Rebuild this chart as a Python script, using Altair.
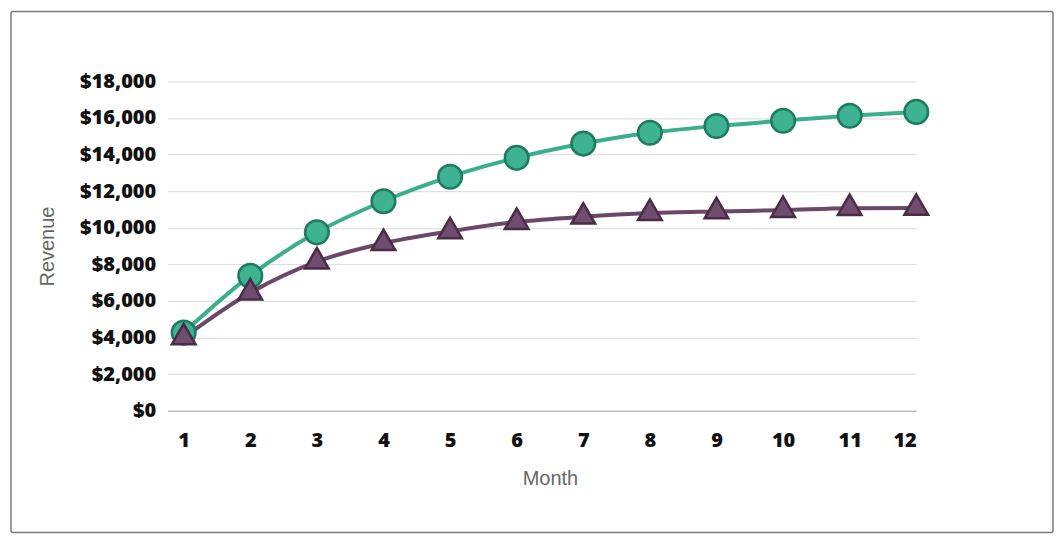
import altair as alt
import pandas as pd

months = list(range(1, 13))
series_names = ["Series A", "Series B"]
series_a = [4270, 7380, 9750, 11450, 12790, 13820, 14600, 15190, 15560, 15850, 16120, 16330]
series_b = [4000, 6450, 8150, 9150, 9800, 10310, 10600, 10800, 10890, 10960, 11070, 11080]

rows = []
for m, v in zip(months, series_a):
    rows.append({"Month": m, "Revenue": v, "Series": series_names[0]})
for m, v in zip(months, series_b):
    rows.append({"Month": m, "Revenue": v, "Series": series_names[1]})
df = pd.DataFrame(rows)

line_colors = ["#3aae8d", "#6b4869"]
fill_colors = ["#3db391", "#704c6f"]
stroke_colors = ["#1f7a5f", "#4a2c47"]
shapes = ["circle", "M0,-1.155L1,0.577L-1,0.577Z"]

x = alt.X(
    "Month:Q",
    scale=alt.Scale(domain=[0.76, 12], nice=False, zero=False),
    axis=alt.Axis(
        values=months,
        format="d",
        grid=False,
        ticks=False,
        domain=True,
        domainColor="#aaaaaa",
        domainWidth=1.2,
        labelFont="Open Sans",
        labelFontWeight=800,
        labelFontSize=20,
        labelColor="#111111",
        labelPadding=20,
        title="Month",
        titleFont="Liberation Sans",
        titleFontWeight="normal",
        titleFontSize=20,
        titleColor="#666666",
        titleX=383,
        titleY=68,
        titleAlign="center",
        titleBaseline="middle",
    ),
)
y = alt.Y(
    "Revenue:Q",
    scale=alt.Scale(domain=[0, 18000], nice=False),
    axis=alt.Axis(
        values=list(range(0, 18001, 2000)),
        format="$,.0f",
        grid=True,
        gridColor="#e0e0e0",
        gridWidth=1.2,
        ticks=False,
        domain=False,
        labelFont="Open Sans",
        labelFontWeight=800,
        labelFontSize=20,
        labelColor="#111111",
        labelPadding=12,
        title="Revenue",
        titleFont="Liberation Sans",
        titleFontWeight="normal",
        titleFontSize=20,
        titleColor="#666666",
        titleX=-120,
        titleY=165,
        titleAngle=-90,
        titleAlign="center",
        titleBaseline="middle",
    ),
)

lines = alt.Chart(df).mark_line(interpolate="monotone", strokeWidth=4).encode(
    x=x,
    y=y,
    color=alt.Color("Series:N", scale=alt.Scale(domain=series_names, range=line_colors), legend=None),
    detail="Series:N",
)

points = alt.Chart(df).mark_point(filled=True, size=560, opacity=1, strokeWidth=2.5).encode(
    x=x,
    y=y,
    fill=alt.Fill("Series:N", scale=alt.Scale(domain=series_names, range=fill_colors), legend=None),
    stroke=alt.Stroke("Series:N", scale=alt.Scale(domain=series_names, range=stroke_colors), legend=None),
    shape=alt.Shape("Series:N", scale=alt.Scale(domain=series_names, range=shapes), legend=None),
)

frame = alt.Chart(pd.DataFrame({"f": [0]})).mark_rect(
    fill=None, stroke="#7a7a7a", strokeWidth=1.5, cornerRadius=2
).encode(
    x=alt.value(-157), x2=alt.value(887), y=alt.value(-70), y2=alt.value(452)
)

chart = alt.layer(frame, lines, points).resolve_scale(
    color="independent"
).properties(
    width=750, height=330, padding=2, background="white"
).configure_view(stroke=None)

chart.save("out.html", embed_options={"renderer": "svg", "actions": False})
